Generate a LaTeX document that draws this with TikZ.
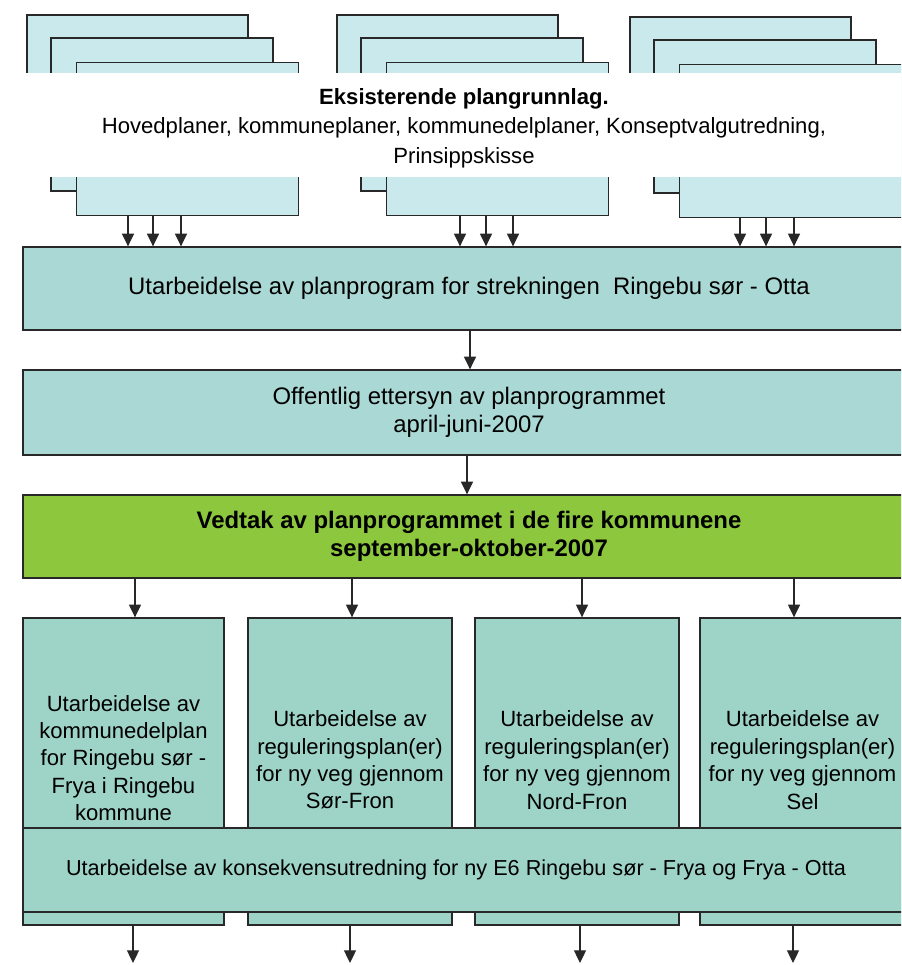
\documentclass[tikz,border=0pt]{standalone}
\usepackage{fontspec}
\setmainfont{Liberation Sans}
\usetikzlibrary{arrows.meta}
\definecolor{sheetcyan}{RGB}{202,233,236}
\definecolor{stagecyan}{RGB}{170,217,213}
\definecolor{colteal}{RGB}{158,212,199}
\definecolor{vedtakgreen}{RGB}{140,199,62}
\definecolor{edge}{RGB}{40,40,40}
\begin{document}
\begin{tikzpicture}[x=0.025cm,y=-0.025cm,line join=miter,>={Triangle[width=8.5pt,length=9pt]},
		sheet/.style={draw=edge,fill=sheetcyan,line width=0.9pt,inner sep=0pt,anchor=north west},
		stage/.style={draw=edge,fill=stagecyan,line width=0.9pt,inner sep=0pt,minimum width=22.3cm,align=center,font=\fontsize{17}{20}\selectfont},
		column/.style={draw=edge,fill=colteal,line width=0.9pt,inner sep=0pt,minimum height=7.675cm},
		coltext/.style={align=center,inner sep=0pt,font=\fontsize{15.7}{19.5}\selectfont},
		flow/.style={->,draw=edge,line width=0.9pt}]
	\useasboundingbox (0,0) rectangle (901,965);
	\clip (0,0) rectangle (901,965);
	% stacked plan sheets
	\foreach \gx/\gy/\n/\w in {27/15/1/5.55cm,337/15/2/5.55cm,630/17/3/5.9cm}{
		\draw[sheet] (\gx,\gy) rectangle ++(221,153);
		\draw[sheet] (\gx+24,\gy+23) rectangle ++(222,153);
		\node[sheet,minimum width=\w,minimum height=3.825cm] (front\n) at (\gx+49,\gy+47) {};
	}
	\fill[white] (0,73) rectangle (901,177);
	\node[align=center,inner sep=0pt,font=\fontsize{15.7}{21}\selectfont] (basis) at (464,128)
		{\textbf{Eksisterende plangrunnlag.}\\Hovedplaner, kommuneplaner, kommunedelplaner, Konseptvalgutredning,\\Prinsippskisse};
	% main stages
	\node[stage,minimum height=2.075cm] (plan) at (469,288.5) {Utarbeidelse av planprogram for strekningen\ \ Ringebu sør - Otta};
	\node[stage,minimum height=2.125cm] (ettersyn) at (469,412.5) {Offentlig ettersyn av planprogrammet\\april-juni-2007};
	\node[stage,fill=vedtakgreen,minimum height=2.075cm,font=\bfseries\fontsize{17}{20}\selectfont] (vedtak) at (469,536.5) {Vedtak av planprogrammet i de fire kommunene\\september-oktober-2007};
	\foreach \n/\x in {1/128,1/153,1/181,2/460,2/486,2/513,3/740,3/766,3/794}
		\draw[flow] (front\n.south -| \x,0) -- (plan.north -| \x,0);
	\draw[flow] (plan.south -| 470,0) -- (ettersyn.north -| 470,0);
	\draw[flow] (ettersyn.south -| 467,0) -- (vedtak.north -| 467,0);
	% municipalities
	\node[column,minimum width=5.025cm] (ringebu) at (123.5,771.5) {};
	\node[column,minimum width=5.1cm] (sorfron) at (350,771.5) {};
	\node[column,minimum width=5.1cm] (nordfron) at (577,771.5) {};
	\node[column,minimum width=5.375cm] (sel) at (807.5,771.5) {};
	\node[coltext] (ringebutxt) at (123.5,758) {Utarbeidelse av\\kommunedelplan\\for Ringebu sør -\\Frya i Ringebu\\kommune};
	\node[coltext] (sorfrontxt) at (350,760) {Utarbeidelse av\\reguleringsplan(er)\\for ny veg gjennom\\Sør-Fron};
	\node[coltext] (nordfrontxt) at (577,760) {Utarbeidelse av\\reguleringsplan(er)\\for ny veg gjennom\\Nord-Fron};
	\node[coltext] (seltxt) at (802.5,760) {Utarbeidelse av\\reguleringsplan(er)\\for ny veg gjennom\\Sel};
	\node[column,minimum width=22.3cm,minimum height=2.1cm] (kons) at (469,870) {};
	\node[inner sep=0pt,font=\fontsize{15.4}{18}\selectfont] (konstxt) at (456,870)
		{Utarbeidelse av konsekvensutredning for ny E6 Ringebu sør - Frya og Frya - Otta};
	\foreach \c/\x in {ringebu/135,sorfron/352,nordfron/582,sel/794}
		\draw[flow] (vedtak.south -| \x,0) -- (\c.north -| \x,0);
	\path (133,963) coordinate (outA) (350,963) coordinate (outB) (580,963) coordinate (outC) (793,963) coordinate (outD);
	\foreach \c/\o in {ringebu/outA,sorfron/outB,nordfron/outC,sel/outD}
		\draw[flow] (\c.south -| \o) -- (\o);
\end{tikzpicture}
\end{document}
